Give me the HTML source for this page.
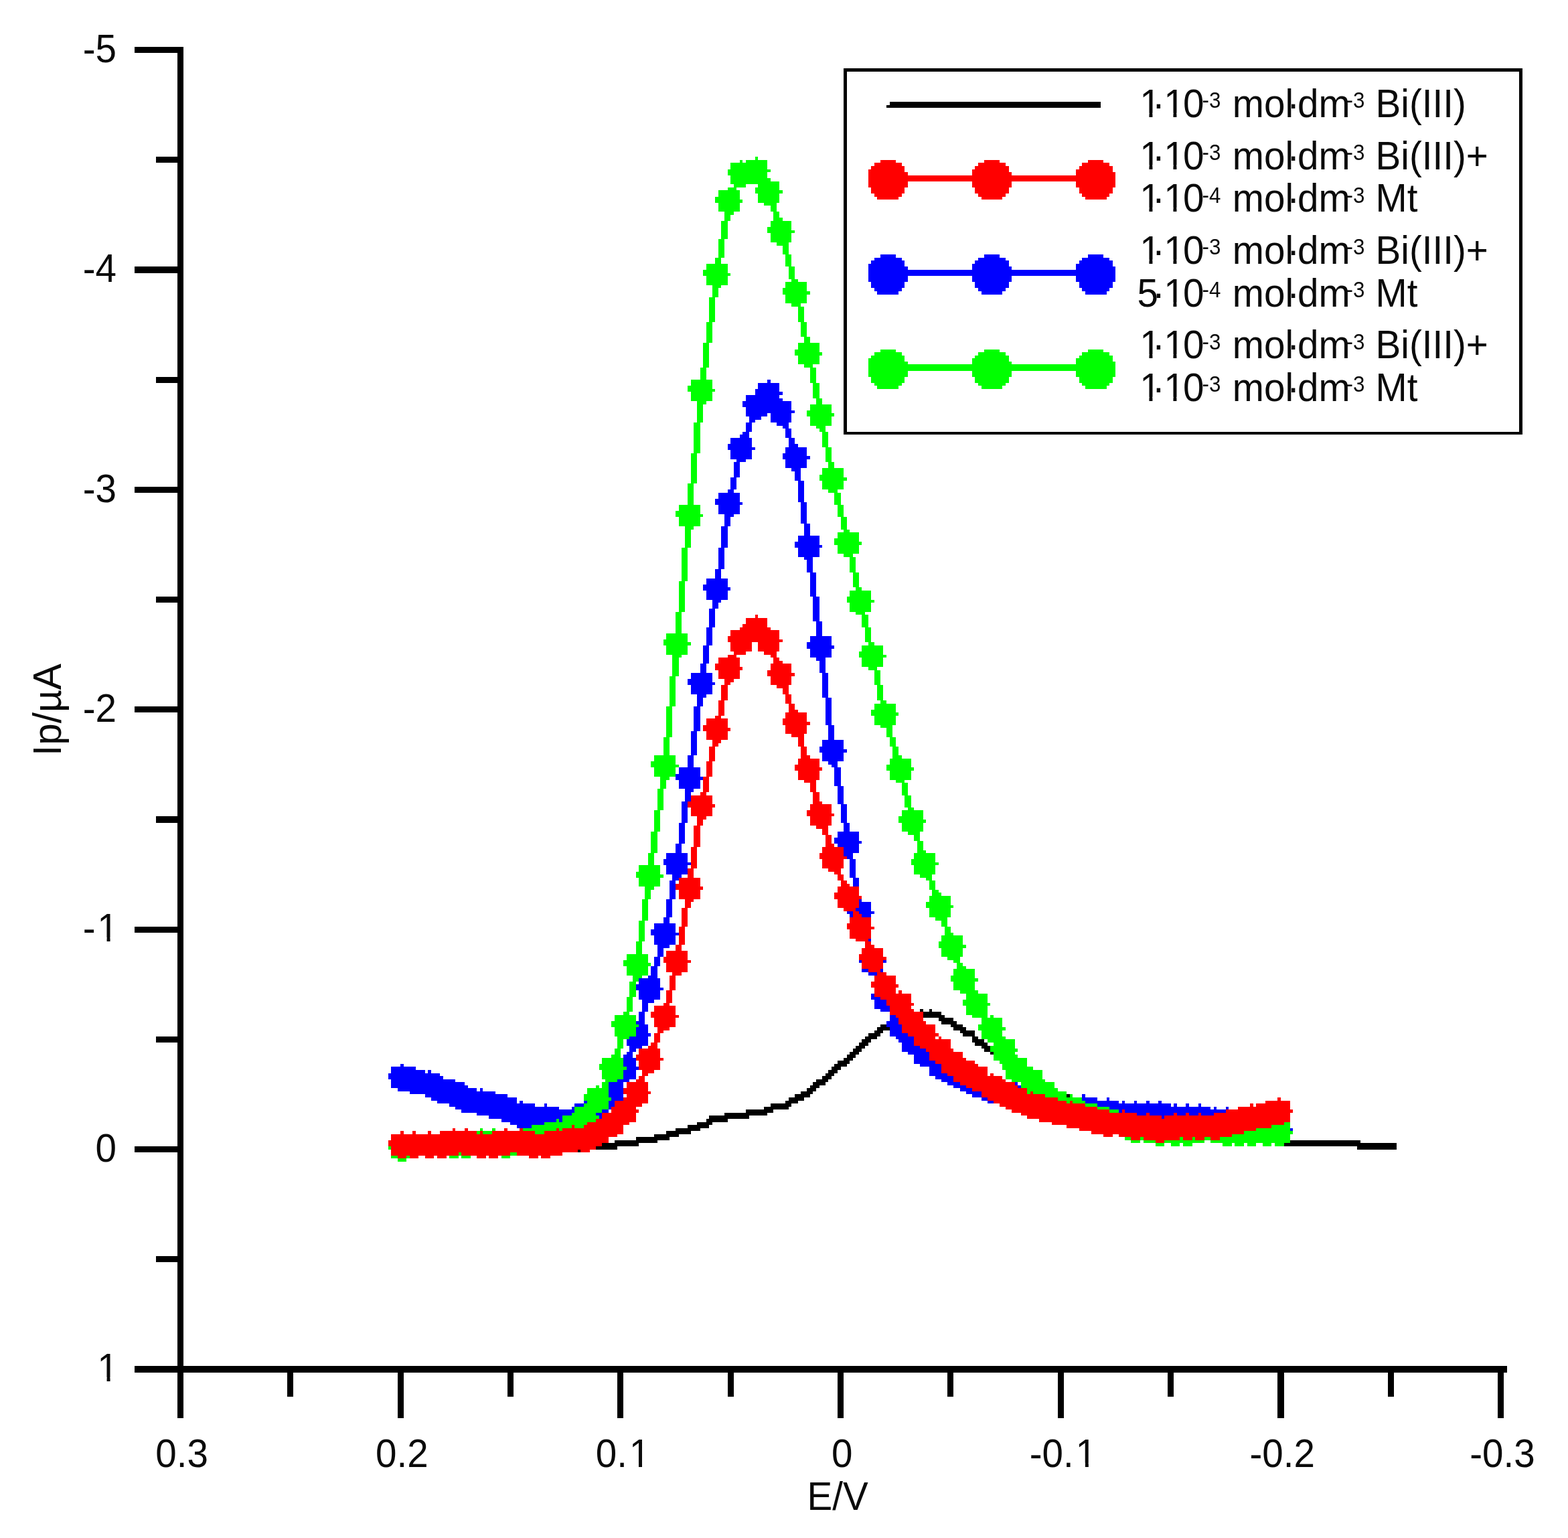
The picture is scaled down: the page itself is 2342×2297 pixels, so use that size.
<!DOCTYPE html>
<html lang="en"><head><meta charset="utf-8"><title>Ip vs E voltammogram</title>
<style>
html,body{margin:0;padding:0;background:#fff;}
body{width:2342px;height:2297px;overflow:hidden;}
svg{display:block;}
text{font-family:"Liberation Sans",sans-serif;font-size:59.6px;fill:#0a0a0a;white-space:pre;}
</style></head>
<body>
<svg width="2342" height="2297" viewBox="0 0 2342 2297">
<rect width="2342" height="2297" fill="#ffffff"/>
<g shape-rendering="crispEdges">
<path fill="#000000" d="M200.88 70.06H273.93V79.18H200.88ZM264.8 79.18H273.93V234.26H264.8ZM1260.08 101.99H2273.62V106.55H1260.08ZM1260.08 106.55H1264.64V644.75H1260.08ZM2269.05 106.55H2273.62V644.75H2269.05ZM1328.56 152.16H1643.58V156.72H1328.56ZM1324 156.72H1643.58V161.28H1324ZM232.84 234.26H273.93V243.38H232.84ZM264.8 243.38H273.93V398.45H264.8ZM200.88 398.45H273.93V407.57H200.88ZM264.8 407.57H273.93V562.65H264.8ZM232.84 562.65H273.93V571.77H232.84ZM264.8 571.77H273.93V726.84H264.8ZM1260.08 644.75H2273.62V649.31H1260.08ZM200.88 726.84H273.93V735.97H200.88ZM264.8 735.97H273.93V891.04H264.8ZM232.84 891.04H273.93V900.16H232.84ZM264.8 900.16H273.93V1055.24H264.8ZM200.88 1055.24H273.93V1064.36H200.88ZM264.8 1064.36H273.93V1219.43H264.8ZM232.84 1219.43H273.93V1228.55H232.84ZM264.8 1228.55H273.93V1383.63H264.8ZM200.88 1383.63H273.93V1392.75H200.88ZM264.8 1392.75H273.93V1547.82H264.8ZM1374.22 1506.77H1378.78V1511.34H1374.22ZM1387.91 1506.77H1392.48V1511.34H1387.91ZM1378.78 1511.34H1406.17V1515.9H1378.78ZM1378.78 1515.9H1410.74V1520.46H1378.78ZM1401.61 1520.46H1424.44V1525.02H1401.61ZM1406.17 1525.02H1429V1529.58H1406.17ZM1314.86 1529.58H1324V1534.14H1314.86ZM1419.87 1529.58H1438.13V1534.14H1419.87ZM1310.3 1534.14H1328.56V1538.7H1310.3ZM1424.44 1534.14H1442.7V1538.7H1424.44ZM1305.73 1538.7H1319.43V1543.26H1305.73ZM1433.57 1538.7H1456.39V1543.26H1433.57ZM1296.6 1543.26H1314.86V1547.82H1296.6ZM1438.13 1543.26H1456.39V1547.82H1438.13ZM232.84 1547.82H273.93V1556.95H232.84ZM1292.04 1547.82H1310.3V1552.38H1292.04ZM1451.83 1547.82H1460.96V1552.38H1451.83ZM1287.47 1552.38H1301.17V1556.95H1287.47ZM1451.83 1552.38H1470.09V1556.95H1451.83ZM264.8 1556.95H273.93V1712.02H264.8ZM1282.91 1556.95H1296.6V1561.51H1282.91ZM1456.39 1556.95H1474.66V1561.51H1456.39ZM1278.34 1561.51H1292.04V1566.07H1278.34ZM1465.53 1561.51H1479.22V1566.07H1465.53ZM1273.77 1566.07H1287.47V1570.63H1273.77ZM1470.09 1566.07H1479.22V1570.63H1470.09ZM1269.21 1570.63H1282.91V1575.19H1269.21ZM1479.22 1570.63H1483.79V1575.19H1479.22ZM1264.64 1575.19H1278.34V1579.75H1264.64ZM1260.08 1579.75H1273.77V1584.31H1260.08ZM1250.95 1584.31H1269.21V1588.87H1250.95ZM1246.38 1588.87H1264.64V1593.43H1246.38ZM1241.82 1593.43H1255.51V1597.99H1241.82ZM1237.25 1597.99H1250.95V1602.56H1237.25ZM1232.68 1602.56H1246.38V1607.12H1232.68ZM1228.12 1607.12H1241.82V1611.68H1228.12ZM1218.99 1611.68H1237.25V1616.24H1218.99ZM1214.42 1616.24H1232.68V1620.8H1214.42ZM1209.86 1620.8H1223.55V1625.36H1209.86ZM1205.29 1625.36H1218.99V1629.92H1205.29ZM1196.16 1629.92H1214.42V1634.48H1196.16ZM1187.03 1634.48H1209.86V1639.04H1187.03ZM1593.36 1634.48H1597.92V1639.04H1593.36ZM1177.9 1639.04H1200.73V1643.61H1177.9ZM1173.33 1643.61H1191.6V1648.17H1173.33ZM1150.51 1648.17H1182.46V1652.73H1150.51ZM1141.38 1652.73H1177.9V1657.29H1141.38ZM1113.98 1657.29H1155.07V1661.85H1113.98ZM1082.02 1661.85H1145.94V1666.41H1082.02ZM1059.2 1666.41H1118.55V1670.97H1059.2ZM1054.63 1670.97H1086.59V1675.53H1054.63ZM1040.93 1675.53H1063.76V1680.09H1040.93ZM1027.24 1680.09H1059.2V1684.65H1027.24ZM1008.98 1684.65H1045.5V1689.21H1008.98ZM995.28 1689.21H1031.8V1693.78H995.28ZM977.02 1693.78H1013.54V1698.34H977.02ZM949.62 1698.34H999.84V1702.9H949.62ZM917.67 1702.9H981.58V1707.46H917.67ZM1926.64 1702.9H2031.65V1707.46H1926.64ZM899.4 1707.46H954.19V1712.02H899.4ZM1917.51 1707.46H2086.43V1712.02H1917.51ZM200.88 1712.02H273.93V1721.14H200.88ZM890.27 1712.02H922.23V1716.58H890.27ZM2027.08 1712.02H2086.43V1716.58H2027.08ZM862.88 1716.58H867.45V1721.14H862.88ZM264.8 1721.14H273.93V1876.22H264.8ZM232.84 1876.22H273.93V1885.34H232.84ZM264.8 1885.34H273.93V2040.41H264.8ZM200.88 2040.41H2250.79V2049.53H200.88ZM264.8 2049.53H273.93V2117.95H264.8ZM429.16 2049.53H438.29V2086.02H429.16ZM593.51 2049.53H602.65V2117.95H593.51ZM757.87 2049.53H767V2086.02H757.87ZM922.23 2049.53H931.36V2117.95H922.23ZM1086.59 2049.53H1095.72V2086.02H1086.59ZM1250.95 2049.53H1260.08V2117.95H1250.95ZM1415.31 2049.53H1424.44V2086.02H1415.31ZM1579.66 2049.53H1588.79V2117.95H1579.66ZM1744.02 2049.53H1753.15V2086.02H1744.02ZM1908.38 2049.53H1917.51V2117.95H1908.38ZM2072.74 2049.53H2081.87V2086.02H2072.74ZM2237.1 2049.53H2246.23V2117.95H2237.1Z"/>
<path fill="#0000ff" d="M1314.86 380.21H1337.69V384.77H1314.86ZM1470.09 380.21H1492.92V384.77H1470.09ZM1625.32 380.21H1648.15V384.77H1625.32ZM1305.73 384.77H1346.82V389.33H1305.73ZM1460.96 384.77H1502.05V389.33H1460.96ZM1616.19 384.77H1657.28V389.33H1616.19ZM1301.17 389.33H1351.39V393.89H1301.17ZM1456.39 389.33H1506.62V393.89H1456.39ZM1611.62 389.33H1661.84V393.89H1611.62ZM1296.6 393.89H1351.39V398.45H1296.6ZM1451.83 393.89H1506.62V398.45H1451.83ZM1607.06 393.89H1661.84V398.45H1607.06ZM1296.6 398.45H1355.95V403.01H1296.6ZM1451.83 398.45H1511.18V403.01H1451.83ZM1607.06 398.45H1666.41V403.01H1607.06ZM1296.6 403.01H1666.41V412.13H1296.6ZM1296.6 412.13H1355.95V421.26H1296.6ZM1451.83 412.13H1511.18V421.26H1451.83ZM1607.06 412.13H1666.41V421.26H1607.06ZM1301.17 421.26H1351.39V430.38H1301.17ZM1456.39 421.26H1506.62V430.38H1456.39ZM1611.62 421.26H1661.84V430.38H1611.62ZM1305.73 430.38H1346.82V434.94H1305.73ZM1460.96 430.38H1502.05V434.94H1460.96ZM1616.19 430.38H1657.28V434.94H1616.19ZM1310.3 434.94H1342.26V439.5H1310.3ZM1465.53 434.94H1497.48V439.5H1465.53ZM1620.75 434.94H1652.71V439.5H1620.75ZM1145.94 567.21H1150.51V571.77H1145.94ZM1132.24 571.77H1164.2V580.89H1132.24ZM1127.68 580.89H1164.2V585.45H1127.68ZM1127.68 585.45H1168.77V590.01H1127.68ZM1113.98 590.01H1164.2V594.57H1113.98ZM1113.98 594.57H1168.77V599.14H1113.98ZM1109.42 599.14H1182.46V608.26H1109.42ZM1113.98 608.26H1182.46V612.82H1113.98ZM1113.98 612.82H1187.03V617.38H1113.98ZM1113.98 617.38H1145.94V621.94H1113.98ZM1150.51 617.38H1182.46V631.06H1150.51ZM1118.55 621.94H1136.81V626.5H1118.55ZM1118.55 626.5H1127.68V631.06H1118.55ZM1113.98 631.06H1123.11V644.75H1113.98ZM1159.64 631.06H1177.9V635.62H1159.64ZM1168.77 635.62H1177.9V640.18H1168.77ZM1173.33 640.18H1182.46V653.87H1173.33ZM1109.42 644.75H1118.55V649.31H1109.42ZM1104.85 649.31H1118.55V653.87H1104.85ZM1091.15 653.87H1123.11V662.99H1091.15ZM1177.9 653.87H1187.03V662.99H1177.9ZM1086.59 662.99H1123.11V667.55H1086.59ZM1177.9 662.99H1191.6V667.55H1177.9ZM1086.59 667.55H1127.68V672.11H1086.59ZM1173.33 667.55H1205.29V676.67H1173.33ZM1091.15 672.11H1123.11V685.79H1091.15ZM1168.77 676.67H1205.29V681.23H1168.77ZM1168.77 681.23H1209.86V685.79H1168.77ZM1100.29 685.79H1113.98V690.36H1100.29ZM1173.33 685.79H1205.29V699.48H1173.33ZM1095.72 690.36H1104.85V713.16H1095.72ZM1182.46 699.48H1196.16V704.04H1182.46ZM1187.03 704.04H1196.16V717.72H1187.03ZM1091.15 713.16H1100.29V731.4H1091.15ZM1191.6 717.72H1200.73V749.65H1191.6ZM1086.59 731.4H1095.72V735.97H1086.59ZM1072.89 735.97H1104.85V745.09H1072.89ZM1068.33 745.09H1104.85V749.65H1068.33ZM1068.33 749.65H1109.42V754.21H1068.33ZM1196.16 749.65H1205.29V781.58H1196.16ZM1072.89 754.21H1104.85V767.89H1072.89ZM1082.02 767.89H1095.72V772.45H1082.02ZM1082.02 772.45H1091.15V786.14H1082.02ZM1200.73 781.58H1209.86V799.82H1200.73ZM1077.46 786.14H1086.59V818.06H1077.46ZM1191.6 799.82H1223.55V808.94H1191.6ZM1187.03 808.94H1223.55V813.5H1187.03ZM1187.03 813.5H1228.12V818.06H1187.03ZM1072.89 818.06H1082.02V849.99H1072.89ZM1191.6 818.06H1223.55V831.75H1191.6ZM1200.73 831.75H1214.42V836.31H1200.73ZM1205.29 836.31H1214.42V854.55H1205.29ZM1068.33 849.99H1077.46V863.67H1068.33ZM1209.86 854.55H1218.99V891.04H1209.86ZM1054.63 863.67H1086.59V872.8H1054.63ZM1050.07 872.8H1086.59V877.36H1050.07ZM1050.07 877.36H1091.15V881.92H1050.07ZM1054.63 881.92H1086.59V895.6H1054.63ZM1214.42 891.04H1223.55V927.53H1214.42ZM1063.76 895.6H1077.46V900.16H1063.76ZM1063.76 900.16H1072.89V909.28H1063.76ZM1059.2 909.28H1068.33V936.65H1059.2ZM1218.99 927.53H1228.12V950.33H1218.99ZM1054.63 936.65H1063.76V964.02H1054.63ZM1209.86 950.33H1241.82V959.45H1209.86ZM1205.29 959.45H1241.82V964.02H1205.29ZM1050.07 964.02H1059.2V991.38H1050.07ZM1205.29 964.02H1246.38V968.58H1205.29ZM1209.86 968.58H1241.82V982.26H1209.86ZM1218.99 982.26H1232.68V986.82H1218.99ZM1223.55 986.82H1232.68V1005.06H1223.55ZM1045.5 991.38H1054.63V1005.06H1045.5ZM1031.8 1005.06H1063.76V1014.19H1031.8ZM1228.12 1005.06H1237.25V1041.55H1228.12ZM1027.24 1014.19H1063.76V1018.75H1027.24ZM1027.24 1018.75H1068.33V1023.31H1027.24ZM1031.8 1023.31H1063.76V1036.99H1031.8ZM1040.93 1036.99H1054.63V1041.55H1040.93ZM1040.93 1041.55H1050.07V1055.24H1040.93ZM1232.68 1041.55H1241.82V1082.6H1232.68ZM1036.37 1055.24H1045.5V1091.72H1036.37ZM1237.25 1082.6H1246.38V1105.41H1237.25ZM1031.8 1091.72H1040.93V1128.21H1031.8ZM1228.12 1105.41H1260.08V1114.53H1228.12ZM1223.55 1114.53H1260.08V1119.09H1223.55ZM1223.55 1119.09H1264.64V1123.65H1223.55ZM1228.12 1123.65H1260.08V1137.33H1228.12ZM1027.24 1128.21H1036.37V1146.46H1027.24ZM1237.25 1137.33H1250.95V1141.89H1237.25ZM1241.82 1141.89H1250.95V1146.46H1241.82ZM1013.54 1146.46H1045.5V1155.58H1013.54ZM1246.38 1146.46H1255.51V1173.82H1246.38ZM1008.98 1155.58H1045.5V1160.14H1008.98ZM1008.98 1160.14H1050.07V1164.7H1008.98ZM1013.54 1164.7H1045.5V1178.38H1013.54ZM1250.95 1173.82H1260.08V1201.19H1250.95ZM1022.67 1178.38H1036.37V1182.94H1022.67ZM1022.67 1182.94H1031.8V1196.63H1022.67ZM1018.11 1196.63H1027.24V1228.55H1018.11ZM1255.51 1201.19H1264.64V1228.55H1255.51ZM1013.54 1228.55H1022.67V1260.48H1013.54ZM1260.08 1228.55H1269.21V1242.24H1260.08ZM1250.95 1242.24H1282.91V1251.36H1250.95ZM1246.38 1251.36H1282.91V1255.92H1246.38ZM1246.38 1255.92H1287.47V1260.48H1246.38ZM1008.98 1260.48H1018.11V1274.16H1008.98ZM1250.95 1260.48H1282.91V1265.04H1250.95ZM1260.08 1265.04H1282.91V1274.16H1260.08ZM995.28 1274.16H1027.24V1283.29H995.28ZM1260.08 1274.16H1273.77V1278.72H1260.08ZM1264.64 1278.72H1273.77V1283.29H1264.64ZM990.71 1283.29H1027.24V1287.85H990.71ZM1269.21 1283.29H1278.34V1310.65H1269.21ZM990.71 1287.85H1031.8V1292.41H990.71ZM995.28 1292.41H1027.24V1306.09H995.28ZM1004.41 1306.09H1018.11V1310.65H1004.41ZM1004.41 1310.65H1013.54V1315.21H1004.41ZM1273.77 1310.65H1282.91V1324.34H1273.77ZM999.84 1315.21H1008.98V1342.58H999.84ZM995.28 1342.58H1004.41V1369.94H995.28ZM1282.91 1342.58H1287.47V1347.14H1282.91ZM1282.91 1347.14H1301.17V1356.26H1282.91ZM1278.34 1356.26H1301.17V1360.82H1278.34ZM1264.64 1360.82H1273.77V1365.38H1264.64ZM1282.91 1360.82H1305.73V1365.38H1282.91ZM1269.21 1365.38H1273.77V1369.94H1269.21ZM1287.47 1365.38H1301.17V1369.94H1287.47ZM990.71 1369.94H999.84V1379.07H990.71ZM977.02 1379.07H1008.98V1388.19H977.02ZM972.45 1388.19H1008.98V1392.75H972.45ZM972.45 1392.75H1013.54V1397.31H972.45ZM977.02 1397.31H1008.98V1410.99H977.02ZM1296.6 1401.87H1301.17V1406.43H1296.6ZM981.58 1410.99H999.84V1415.56H981.58ZM981.58 1415.56H990.71V1429.24H981.58ZM977.02 1429.24H986.15V1442.92H977.02ZM1282.91 1433.8H1287.47V1438.36H1282.91ZM1319.43 1433.8H1324V1438.36H1319.43ZM972.45 1442.92H981.58V1456.6H972.45ZM1287.47 1447.48H1296.6V1452.04H1287.47ZM1314.86 1447.48H1319.43V1452.04H1314.86ZM1296.6 1452.04H1310.3V1456.6H1296.6ZM967.89 1456.6H981.58V1461.16H967.89ZM954.19 1461.16H986.15V1470.29H954.19ZM949.62 1470.29H986.15V1474.85H949.62ZM949.62 1474.85H990.71V1479.41H949.62ZM954.19 1479.41H986.15V1493.09H954.19ZM1301.17 1483.97H1305.73V1488.53H1301.17ZM1301.17 1488.53H1314.86V1493.09H1301.17ZM958.75 1493.09H977.02V1497.65H958.75ZM1305.73 1493.09H1324V1502.21H1305.73ZM958.75 1497.65H967.89V1511.34H958.75ZM1305.73 1502.21H1328.56V1506.77H1305.73ZM1314.86 1506.77H1328.56V1511.34H1314.86ZM954.19 1511.34H963.32V1525.02H954.19ZM1328.56 1515.9H1337.69V1520.46H1328.56ZM1328.56 1520.46H1342.26V1525.02H1328.56ZM949.62 1525.02H963.32V1529.58H949.62ZM1324 1525.02H1342.26V1529.58H1324ZM954.19 1529.58H967.89V1534.14H954.19ZM1324 1529.58H1346.82V1534.14H1324ZM949.62 1534.14H967.89V1543.26H949.62ZM1328.56 1534.14H1346.82V1543.26H1328.56ZM949.62 1543.26H972.45V1547.82H949.62ZM1328.56 1543.26H1355.95V1547.82H1328.56ZM940.49 1547.82H967.89V1552.38H940.49ZM1337.69 1547.82H1365.08V1552.38H1337.69ZM935.93 1552.38H967.89V1561.51H935.93ZM1342.26 1552.38H1365.08V1556.95H1342.26ZM1346.82 1556.95H1365.08V1561.51H1346.82ZM940.49 1561.51H958.75V1566.07H940.49ZM1346.82 1561.51H1374.22V1566.07H1346.82ZM940.49 1566.07H949.62V1570.63H940.49ZM1346.82 1566.07H1383.35V1570.63H1346.82ZM935.93 1570.63H945.06V1575.19H935.93ZM1355.95 1570.63H1387.91V1575.19H1355.95ZM931.36 1575.19H945.06V1579.75H931.36ZM1365.08 1575.19H1387.91V1584.31H1365.08ZM931.36 1579.75H949.62V1593.43H931.36ZM1365.08 1584.31H1397.04V1588.87H1365.08ZM598.08 1588.87H602.65V1593.43H598.08ZM1374.22 1588.87H1406.17V1593.43H1374.22ZM584.38 1593.43H620.91V1597.99H584.38ZM935.93 1593.43H954.19V1597.99H935.93ZM1387.91 1593.43H1406.17V1602.56H1387.91ZM584.38 1597.99H634.6V1602.56H584.38ZM639.17 1597.99H643.74V1602.56H639.17ZM931.36 1597.99H949.62V1611.68H931.36ZM579.82 1602.56H657.43V1607.12H579.82ZM1387.91 1602.56H1415.31V1607.12H1387.91ZM579.82 1607.12H662V1611.68H579.82ZM1397.04 1607.12H1424.44V1611.68H1397.04ZM584.38 1611.68H680.26V1616.24H584.38ZM922.23 1611.68H940.49V1616.24H922.23ZM1406.17 1611.68H1424.44V1616.24H1406.17ZM584.38 1616.24H693.96V1620.8H584.38ZM908.53 1616.24H931.36V1639.04H908.53ZM1415.31 1616.24H1433.57V1620.8H1415.31ZM1515.75 1616.24H1520.31V1620.8H1515.75ZM584.38 1620.8H698.52V1625.36H584.38ZM1424.44 1620.8H1442.7V1625.36H1424.44ZM1520.31 1620.8H1524.88V1625.36H1520.31ZM593.51 1625.36H712.22V1629.92H593.51ZM716.78 1625.36H721.35V1629.92H716.78ZM1433.57 1625.36H1451.83V1629.92H1433.57ZM611.78 1629.92H739.61V1634.48H611.78ZM1442.7 1629.92H1465.53V1634.48H1442.7ZM634.6 1634.48H757.87V1639.04H634.6ZM1451.83 1634.48H1465.53V1639.04H1451.83ZM1616.19 1634.48H1620.75V1639.04H1616.19ZM643.74 1639.04H771.57V1643.61H643.74ZM913.1 1639.04H931.36V1643.61H913.1ZM1465.53 1639.04H1474.66V1643.61H1465.53ZM1616.19 1639.04H1639.01V1643.61H1616.19ZM1652.71 1639.04H1657.28V1643.61H1652.71ZM652.87 1643.61H771.57V1648.17H652.87ZM776.13 1643.61H780.7V1648.17H776.13ZM872.01 1643.61H876.58V1648.17H872.01ZM908.53 1643.61H917.67V1652.73H908.53ZM1474.66 1643.61H1483.79V1648.17H1474.66ZM1620.75 1643.61H1670.97V1648.17H1620.75ZM1675.54 1643.61H1680.1V1648.17H1675.54ZM1693.8 1643.61H1698.37V1648.17H1693.8ZM1712.06 1643.61H1716.63V1648.17H1712.06ZM1730.32 1643.61H1734.89V1648.17H1730.32ZM671.13 1648.17H798.96V1652.73H671.13ZM812.66 1648.17H817.22V1652.73H812.66ZM858.31 1648.17H872.01V1652.73H858.31ZM1639.01 1648.17H1748.59V1652.73H1639.01ZM1753.15 1648.17H1757.72V1652.73H1753.15ZM1771.41 1648.17H1775.98V1652.73H1771.41ZM1789.68 1648.17H1794.24V1652.73H1789.68ZM680.26 1652.73H835.49V1657.29H680.26ZM853.75 1652.73H858.31V1657.29H853.75ZM908.53 1652.73H913.1V1657.29H908.53ZM1657.28 1652.73H1807.94V1657.29H1657.28ZM1812.5 1652.73H1817.07V1657.29H1812.5ZM1830.77 1652.73H1835.33V1657.29H1830.77ZM689.39 1657.29H858.31V1661.85H689.39ZM899.4 1657.29H908.53V1661.85H899.4ZM1670.97 1657.29H1675.54V1661.85H1670.97ZM1680.1 1657.29H1830.77V1661.85H1680.1ZM712.22 1661.85H853.75V1666.41H712.22ZM890.27 1661.85H899.4V1666.41H890.27ZM1698.37 1661.85H1712.06V1666.41H1698.37ZM1716.63 1661.85H1753.15V1666.41H1716.63ZM1757.72 1661.85H1771.41V1666.41H1757.72ZM1775.98 1661.85H1789.68V1666.41H1775.98ZM1794.24 1661.85H1812.5V1666.41H1794.24ZM730.48 1666.41H840.05V1670.97H730.48ZM894.84 1666.41H899.4V1670.97H894.84ZM1734.89 1666.41H1739.46V1670.97H1734.89ZM748.74 1670.97H830.92V1675.53H748.74ZM835.49 1670.97H840.05V1675.53H835.49ZM762.44 1675.53H812.66V1680.09H762.44ZM771.57 1680.09H794.4V1684.65H771.57ZM1926.64 1684.65H1931.21V1689.21H1926.64Z"/>
<path fill="#00ff00" d="M1127.68 234.26H1132.24V238.82H1127.68ZM1104.85 238.82H1109.42V243.38H1104.85ZM1113.98 238.82H1145.94V243.38H1113.98ZM1091.15 243.38H1145.94V252.5H1091.15ZM1086.59 252.5H1150.51V257.06H1086.59ZM1086.59 257.06H1145.94V261.62H1086.59ZM1091.15 261.62H1145.94V266.18H1091.15ZM1091.15 266.18H1150.51V270.74H1091.15ZM1091.15 270.74H1164.2V275.3H1091.15ZM1095.72 275.3H1113.98V279.87H1095.72ZM1132.24 275.3H1164.2V279.87H1132.24ZM1086.59 279.87H1100.29V284.43H1086.59ZM1127.68 279.87H1164.2V284.43H1127.68ZM1072.89 284.43H1104.85V293.55H1072.89ZM1127.68 284.43H1168.77V288.99H1127.68ZM1132.24 288.99H1164.2V302.67H1132.24ZM1068.33 293.55H1104.85V298.11H1068.33ZM1068.33 298.11H1109.42V302.67H1068.33ZM1072.89 302.67H1104.85V316.35H1072.89ZM1141.38 302.67H1159.64V307.23H1141.38ZM1150.51 307.23H1159.64V316.35H1150.51ZM1082.02 316.35H1095.72V320.91H1082.02ZM1155.07 316.35H1164.2V325.48H1155.07ZM1082.02 320.91H1091.15V330.04H1082.02ZM1155.07 325.48H1168.77V330.04H1155.07ZM1077.46 330.04H1086.59V357.4H1077.46ZM1150.51 330.04H1182.46V339.16H1150.51ZM1145.94 339.16H1182.46V343.72H1145.94ZM1145.94 343.72H1187.03V348.28H1145.94ZM1150.51 348.28H1182.46V361.96H1150.51ZM1072.89 357.4H1082.02V384.77H1072.89ZM1159.64 361.96H1177.9V366.52H1159.64ZM1168.77 366.52H1177.9V380.21H1168.77ZM1173.33 380.21H1182.46V398.45H1173.33ZM1068.33 384.77H1077.46V393.89H1068.33ZM1054.63 393.89H1086.59V403.01H1054.63ZM1177.9 398.45H1187.03V416.7H1177.9ZM1050.07 403.01H1086.59V407.57H1050.07ZM1050.07 407.57H1091.15V412.13H1050.07ZM1054.63 412.13H1086.59V425.82H1054.63ZM1182.46 416.7H1191.6V421.26H1182.46ZM1173.33 421.26H1205.29V430.38H1173.33ZM1063.76 425.82H1077.46V430.38H1063.76ZM1063.76 430.38H1072.89V444.06H1063.76ZM1168.77 430.38H1205.29V434.94H1168.77ZM1168.77 434.94H1209.86V439.5H1168.77ZM1173.33 439.5H1205.29V453.18H1173.33ZM1059.2 444.06H1068.33V480.55H1059.2ZM1182.46 453.18H1196.16V457.75H1182.46ZM1191.6 457.75H1200.73V480.55H1191.6ZM1054.63 480.55H1063.76V512.48H1054.63ZM1196.16 480.55H1205.29V503.35H1196.16ZM1200.73 503.35H1209.86V512.48H1200.73ZM1050.07 512.48H1059.2V548.96H1050.07ZM1191.6 512.48H1223.55V521.6H1191.6ZM1187.03 521.6H1223.55V526.16H1187.03ZM1314.86 521.6H1337.69V526.16H1314.86ZM1470.09 521.6H1492.92V526.16H1470.09ZM1625.32 521.6H1648.15V526.16H1625.32ZM1187.03 526.16H1228.12V530.72H1187.03ZM1305.73 526.16H1346.82V530.72H1305.73ZM1460.96 526.16H1502.05V530.72H1460.96ZM1616.19 526.16H1657.28V530.72H1616.19ZM1191.6 530.72H1223.55V544.4H1191.6ZM1301.17 530.72H1351.39V535.28H1301.17ZM1456.39 530.72H1506.62V535.28H1456.39ZM1611.62 530.72H1661.84V535.28H1611.62ZM1296.6 535.28H1351.39V539.84H1296.6ZM1451.83 535.28H1506.62V539.84H1451.83ZM1607.06 535.28H1661.84V539.84H1607.06ZM1296.6 539.84H1355.95V544.4H1296.6ZM1451.83 539.84H1511.18V544.4H1451.83ZM1607.06 539.84H1666.41V544.4H1607.06ZM1200.73 544.4H1214.42V548.96H1200.73ZM1296.6 544.4H1666.41V553.53H1296.6ZM1045.5 548.96H1054.63V567.21H1045.5ZM1209.86 548.96H1218.99V571.77H1209.86ZM1296.6 553.53H1355.95V562.65H1296.6ZM1451.83 553.53H1511.18V562.65H1451.83ZM1607.06 553.53H1666.41V562.65H1607.06ZM1301.17 562.65H1351.39V571.77H1301.17ZM1456.39 562.65H1506.62V571.77H1456.39ZM1611.62 562.65H1661.84V571.77H1611.62ZM1031.8 567.21H1063.76V576.33H1031.8ZM1214.42 571.77H1223.55V594.57H1214.42ZM1305.73 571.77H1346.82V576.33H1305.73ZM1460.96 571.77H1502.05V576.33H1460.96ZM1616.19 571.77H1657.28V576.33H1616.19ZM1027.24 576.33H1063.76V580.89H1027.24ZM1310.3 576.33H1342.26V580.89H1310.3ZM1465.53 576.33H1497.48V580.89H1465.53ZM1620.75 576.33H1652.71V580.89H1620.75ZM1027.24 580.89H1068.33V585.45H1027.24ZM1031.8 585.45H1063.76V599.14H1031.8ZM1218.99 594.57H1228.12V603.7H1218.99ZM1040.93 599.14H1054.63V603.7H1040.93ZM1040.93 603.7H1050.07V631.06H1040.93ZM1209.86 603.7H1241.82V612.82H1209.86ZM1205.29 612.82H1241.82V617.38H1205.29ZM1205.29 617.38H1246.38V621.94H1205.29ZM1209.86 621.94H1241.82V635.62H1209.86ZM1036.37 631.06H1045.5V676.67H1036.37ZM1218.99 635.62H1232.68V640.18H1218.99ZM1223.55 640.18H1232.68V644.75H1223.55ZM1228.12 644.75H1237.25V667.55H1228.12ZM1232.68 667.55H1241.82V690.36H1232.68ZM1031.8 676.67H1040.93V722.28H1031.8ZM1237.25 690.36H1246.38V699.48H1237.25ZM1228.12 699.48H1260.08V708.6H1228.12ZM1223.55 708.6H1260.08V713.16H1223.55ZM1223.55 713.16H1264.64V717.72H1223.55ZM1228.12 717.72H1260.08V731.4H1228.12ZM1027.24 722.28H1036.37V754.21H1027.24ZM1237.25 731.4H1250.95V735.97H1237.25ZM1246.38 735.97H1255.51V754.21H1246.38ZM1013.54 754.21H1045.5V763.33H1013.54ZM1250.95 754.21H1260.08V772.45H1250.95ZM1008.98 763.33H1045.5V767.89H1008.98ZM1008.98 767.89H1050.07V772.45H1008.98ZM1013.54 772.45H1045.5V786.14H1013.54ZM1255.51 772.45H1264.64V790.7H1255.51ZM1022.67 786.14H1036.37V790.7H1022.67ZM1022.67 790.7H1031.8V818.06H1022.67ZM1260.08 790.7H1269.21V795.26H1260.08ZM1250.95 795.26H1282.91V804.38H1250.95ZM1246.38 804.38H1282.91V808.94H1246.38ZM1246.38 808.94H1287.47V813.5H1246.38ZM1250.95 813.5H1282.91V827.19H1250.95ZM1018.11 818.06H1027.24V868.24H1018.11ZM1260.08 827.19H1273.77V831.75H1260.08ZM1269.21 831.75H1278.34V854.55H1269.21ZM1273.77 854.55H1282.91V877.36H1273.77ZM1013.54 868.24H1022.67V913.85H1013.54ZM1278.34 877.36H1287.47V881.92H1278.34ZM1269.21 881.92H1301.17V891.04H1269.21ZM1264.64 891.04H1301.17V895.6H1264.64ZM1264.64 895.6H1305.73V900.16H1264.64ZM1269.21 900.16H1301.17V913.85H1269.21ZM1008.98 913.85H1018.11V945.77H1008.98ZM1278.34 913.85H1292.04V918.41H1278.34ZM1287.47 918.41H1296.6V936.65H1287.47ZM1292.04 936.65H1301.17V959.45H1292.04ZM995.28 945.77H1027.24V954.89H995.28ZM990.71 954.89H1027.24V959.45H990.71ZM990.71 959.45H1031.8V964.02H990.71ZM1296.6 959.45H1305.73V964.02H1296.6ZM995.28 964.02H1027.24V977.7H995.28ZM1287.47 964.02H1319.43V973.14H1287.47ZM1282.91 973.14H1319.43V977.7H1282.91ZM1004.41 977.7H1018.11V982.26H1004.41ZM1282.91 977.7H1324V982.26H1282.91ZM1004.41 982.26H1013.54V1009.63H1004.41ZM1287.47 982.26H1319.43V995.94H1287.47ZM1296.6 995.94H1310.3V1000.5H1296.6ZM1305.73 1000.5H1314.86V1023.31H1305.73ZM999.84 1009.63H1008.98V1055.24H999.84ZM1310.3 1023.31H1319.43V1046.11H1310.3ZM1314.86 1046.11H1324V1050.67H1314.86ZM1305.73 1050.67H1337.69V1059.8H1305.73ZM995.28 1055.24H1004.41V1100.85H995.28ZM1301.17 1059.8H1337.69V1064.36H1301.17ZM1301.17 1064.36H1342.26V1068.92H1301.17ZM1305.73 1068.92H1337.69V1082.6H1305.73ZM1314.86 1082.6H1333.13V1087.16H1314.86ZM1324 1087.16H1333.13V1100.85H1324ZM990.71 1100.85H999.84V1128.21H990.71ZM1328.56 1100.85H1337.69V1114.53H1328.56ZM1333.13 1114.53H1342.26V1128.21H1333.13ZM977.02 1128.21H1008.98V1137.33H977.02ZM1333.13 1128.21H1346.82V1132.77H1333.13ZM1328.56 1132.77H1360.52V1141.89H1328.56ZM972.45 1137.33H1008.98V1141.89H972.45ZM972.45 1141.89H1013.54V1146.46H972.45ZM1324 1141.89H1360.52V1146.46H1324ZM977.02 1146.46H1008.98V1160.14H977.02ZM1324 1146.46H1365.08V1151.02H1324ZM1328.56 1151.02H1360.52V1164.7H1328.56ZM986.15 1160.14H999.84V1164.7H986.15ZM986.15 1164.7H995.28V1178.38H986.15ZM1337.69 1164.7H1351.39V1169.26H1337.69ZM1346.82 1169.26H1355.95V1187.5H1346.82ZM981.58 1178.38H990.71V1210.31H981.58ZM1351.39 1187.5H1360.52V1205.75H1351.39ZM1355.95 1205.75H1365.08V1210.31H1355.95ZM977.02 1210.31H986.15V1242.24H977.02ZM1346.82 1210.31H1378.78V1219.43H1346.82ZM1342.26 1219.43H1378.78V1223.99H1342.26ZM1342.26 1223.99H1383.35V1228.55H1342.26ZM1346.82 1228.55H1378.78V1242.24H1346.82ZM972.45 1242.24H981.58V1274.16H972.45ZM1355.95 1242.24H1374.22V1246.8H1355.95ZM1365.08 1246.8H1374.22V1255.92H1365.08ZM1369.65 1255.92H1378.78V1269.6H1369.65ZM1369.65 1269.6H1383.35V1274.16H1369.65ZM967.89 1274.16H977.02V1292.41H967.89ZM1365.08 1274.16H1397.04V1283.29H1365.08ZM1360.52 1283.29H1397.04V1287.85H1360.52ZM1360.52 1287.85H1401.61V1292.41H1360.52ZM954.19 1292.41H986.15V1301.53H954.19ZM1365.08 1292.41H1397.04V1306.09H1365.08ZM949.62 1301.53H986.15V1306.09H949.62ZM949.62 1306.09H990.71V1310.65H949.62ZM1374.22 1306.09H1392.48V1310.65H1374.22ZM954.19 1310.65H986.15V1324.34H954.19ZM1383.35 1310.65H1392.48V1315.21H1383.35ZM1387.91 1315.21H1397.04V1328.9H1387.91ZM963.32 1324.34H977.02V1328.9H963.32ZM963.32 1328.9H972.45V1342.58H963.32ZM1392.48 1328.9H1401.61V1333.46H1392.48ZM1392.48 1333.46H1406.17V1338.02H1392.48ZM1387.91 1338.02H1419.87V1347.14H1387.91ZM958.75 1342.58H967.89V1374.51H958.75ZM1383.35 1347.14H1419.87V1351.7H1383.35ZM1383.35 1351.7H1424.44V1356.26H1383.35ZM1387.91 1356.26H1419.87V1369.94H1387.91ZM1397.04 1369.94H1415.31V1374.51H1397.04ZM954.19 1374.51H963.32V1406.43H954.19ZM1406.17 1374.51H1415.31V1383.63H1406.17ZM1410.74 1383.63H1419.87V1392.75H1410.74ZM1410.74 1392.75H1424.44V1397.31H1410.74ZM1406.17 1397.31H1438.13V1406.43H1406.17ZM949.62 1406.43H958.75V1424.68H949.62ZM1401.61 1406.43H1438.13V1410.99H1401.61ZM1401.61 1410.99H1442.7V1415.56H1401.61ZM1406.17 1415.56H1438.13V1429.24H1406.17ZM935.93 1424.68H967.89V1433.8H935.93ZM1415.31 1429.24H1433.57V1433.8H1415.31ZM931.36 1433.8H967.89V1438.36H931.36ZM1424.44 1433.8H1433.57V1438.36H1424.44ZM931.36 1438.36H972.45V1442.92H931.36ZM1429 1438.36H1438.13V1442.92H1429ZM935.93 1442.92H967.89V1456.6H935.93ZM1429 1442.92H1442.7V1447.48H1429ZM1424.44 1447.48H1456.39V1456.6H1424.44ZM945.06 1456.6H958.75V1461.16H945.06ZM1419.87 1456.6H1456.39V1461.16H1419.87ZM945.06 1461.16H954.19V1465.73H945.06ZM1419.87 1461.16H1460.96V1465.73H1419.87ZM940.49 1465.73H949.62V1488.53H940.49ZM1424.44 1465.73H1456.39V1479.41H1424.44ZM1433.57 1479.41H1460.96V1483.97H1433.57ZM1442.7 1483.97H1474.66V1493.09H1442.7ZM935.93 1488.53H945.06V1511.34H935.93ZM1438.13 1493.09H1474.66V1497.65H1438.13ZM1438.13 1497.65H1479.22V1502.21H1438.13ZM1442.7 1502.21H1474.66V1515.9H1442.7ZM931.36 1511.34H940.49V1515.9H931.36ZM917.67 1515.9H949.62V1525.02H917.67ZM1451.83 1515.9H1474.66V1520.46H1451.83ZM1479.22 1515.9H1483.79V1520.46H1479.22ZM1465.53 1520.46H1497.48V1529.58H1465.53ZM913.1 1525.02H949.62V1529.58H913.1ZM913.1 1529.58H954.19V1534.14H913.1ZM1460.96 1529.58H1497.48V1534.14H1460.96ZM917.67 1534.14H949.62V1547.82H917.67ZM1460.96 1534.14H1502.05V1538.7H1460.96ZM1465.53 1538.7H1497.48V1547.82H1465.53ZM922.23 1547.82H940.49V1552.38H922.23ZM1465.53 1547.82H1502.05V1552.38H1465.53ZM922.23 1552.38H931.36V1566.07H922.23ZM1474.66 1552.38H1515.75V1556.95H1474.66ZM1483.79 1556.95H1515.75V1561.51H1483.79ZM1479.22 1561.51H1515.75V1566.07H1479.22ZM917.67 1566.07H926.8V1575.19H917.67ZM1479.22 1566.07H1520.31V1570.63H1479.22ZM1483.79 1570.63H1515.75V1575.19H1483.79ZM913.1 1575.19H926.8V1579.75H913.1ZM1483.79 1575.19H1520.31V1579.75H1483.79ZM899.4 1579.75H931.36V1588.87H899.4ZM1483.79 1579.75H1534.01V1584.31H1483.79ZM1492.92 1584.31H1534.01V1588.87H1492.92ZM894.84 1588.87H931.36V1593.43H894.84ZM1497.48 1588.87H1534.01V1593.43H1497.48ZM894.84 1593.43H935.93V1597.99H894.84ZM1497.48 1593.43H1543.14V1597.99H1497.48ZM899.4 1597.99H931.36V1611.68H899.4ZM1502.05 1597.99H1556.84V1611.68H1502.05ZM903.97 1611.68H922.23V1616.24H903.97ZM1511.18 1611.68H1561.4V1616.24H1511.18ZM899.4 1616.24H908.53V1625.36H899.4ZM1524.88 1616.24H1575.1V1625.36H1524.88ZM890.27 1620.8H894.84V1625.36H890.27ZM876.58 1625.36H908.53V1634.48H876.58ZM1534.01 1625.36H1579.66V1629.92H1534.01ZM1534.01 1629.92H1538.57V1634.48H1534.01ZM1543.14 1629.92H1593.36V1634.48H1543.14ZM872.01 1634.48H908.53V1639.04H872.01ZM1561.4 1634.48H1593.36V1639.04H1561.4ZM1597.92 1634.48H1602.49V1639.04H1597.92ZM872.01 1639.04H913.1V1643.61H872.01ZM1579.66 1639.04H1616.19V1643.61H1579.66ZM876.58 1643.61H908.53V1648.17H876.58ZM1593.36 1643.61H1597.92V1648.17H1593.36ZM1602.49 1643.61H1620.75V1648.17H1602.49ZM872.01 1648.17H908.53V1652.73H872.01ZM1620.75 1648.17H1639.01V1652.73H1620.75ZM858.31 1652.73H908.53V1657.29H858.31ZM1639.01 1652.73H1657.28V1657.29H1639.01ZM858.31 1657.29H899.4V1661.85H858.31ZM1657.28 1657.29H1670.97V1661.85H1657.28ZM853.75 1661.85H890.27V1666.41H853.75ZM840.05 1666.41H894.84V1670.97H840.05ZM830.92 1670.97H835.49V1675.53H830.92ZM840.05 1670.97H890.27V1675.53H840.05ZM812.66 1675.53H876.58V1680.09H812.66ZM1917.51 1675.53H1926.64V1680.09H1917.51ZM794.4 1680.09H853.75V1684.65H794.4ZM858.31 1680.09H872.01V1684.65H858.31ZM1899.25 1680.09H1926.64V1684.65H1899.25ZM716.78 1684.65H721.35V1689.21H716.78ZM735.05 1684.65H739.61V1689.21H735.05ZM780.7 1684.65H830.92V1689.21H780.7ZM835.49 1684.65H840.05V1689.21H835.49ZM1876.42 1684.65H1926.64V1689.21H1876.42ZM712.22 1689.21H716.78V1693.78H712.22ZM721.35 1689.21H735.05V1693.78H721.35ZM798.96 1689.21H812.66V1693.78H798.96ZM1858.16 1689.21H1931.21V1693.78H1858.16ZM1839.9 1693.78H1926.64V1698.34H1839.9ZM1680.1 1698.34H1689.24V1702.9H1680.1ZM1702.93 1698.34H1707.5V1702.9H1702.93ZM1762.28 1698.34H1766.85V1702.9H1762.28ZM1780.55 1698.34H1785.11V1702.9H1780.55ZM1798.81 1698.34H1807.94V1702.9H1798.81ZM1821.63 1698.34H1926.64V1702.9H1821.63ZM1689.24 1702.9H1702.93V1707.46H1689.24ZM1707.5 1702.9H1725.76V1707.46H1707.5ZM1739.46 1702.9H1798.81V1707.46H1739.46ZM1807.94 1702.9H1926.64V1707.46H1807.94ZM1725.76 1707.46H1739.46V1712.02H1725.76ZM1748.59 1707.46H1762.28V1712.02H1748.59ZM1766.85 1707.46H1780.55V1712.02H1766.85ZM1826.2 1707.46H1839.9V1712.02H1826.2ZM1844.46 1707.46H1858.16V1712.02H1844.46ZM1862.72 1707.46H1876.42V1712.02H1862.72ZM1885.55 1707.46H1899.25V1712.02H1885.55ZM1903.81 1707.46H1917.51V1712.02H1903.81ZM579.82 1712.02H584.38V1716.58H579.82ZM684.83 1721.14H689.39V1725.7H684.83ZM762.44 1721.14H771.57V1725.7H762.44ZM584.38 1725.7H593.51V1730.26H584.38ZM607.21 1725.7H611.78V1730.26H607.21ZM671.13 1725.7H684.83V1730.26H671.13ZM689.39 1725.7H703.09V1730.26H689.39ZM748.74 1725.7H762.44V1730.26H748.74ZM593.51 1730.26H607.21V1734.83H593.51Z"/>
<path fill="#ff0000" d="M1314.86 238.82H1337.69V243.38H1314.86ZM1470.09 238.82H1492.92V243.38H1470.09ZM1625.32 238.82H1648.15V243.38H1625.32ZM1305.73 243.38H1346.82V247.94H1305.73ZM1460.96 243.38H1502.05V247.94H1460.96ZM1616.19 243.38H1657.28V247.94H1616.19ZM1301.17 247.94H1351.39V252.5H1301.17ZM1456.39 247.94H1506.62V252.5H1456.39ZM1611.62 247.94H1661.84V252.5H1611.62ZM1296.6 252.5H1351.39V257.06H1296.6ZM1451.83 252.5H1506.62V257.06H1451.83ZM1607.06 252.5H1661.84V257.06H1607.06ZM1296.6 257.06H1355.95V261.62H1296.6ZM1451.83 257.06H1511.18V261.62H1451.83ZM1607.06 257.06H1666.41V261.62H1607.06ZM1296.6 261.62H1666.41V270.74H1296.6ZM1296.6 270.74H1355.95V279.87H1296.6ZM1451.83 270.74H1511.18V279.87H1451.83ZM1607.06 270.74H1666.41V279.87H1607.06ZM1301.17 279.87H1351.39V288.99H1301.17ZM1456.39 279.87H1506.62V288.99H1456.39ZM1611.62 279.87H1661.84V288.99H1611.62ZM1305.73 288.99H1346.82V293.55H1305.73ZM1460.96 288.99H1502.05V293.55H1460.96ZM1616.19 288.99H1657.28V293.55H1616.19ZM1310.3 293.55H1342.26V298.11H1310.3ZM1465.53 293.55H1497.48V298.11H1465.53ZM1620.75 293.55H1652.71V298.11H1620.75ZM1127.68 918.41H1132.24V922.97H1127.68ZM1113.98 922.97H1145.94V932.09H1113.98ZM1109.42 932.09H1145.94V936.65H1109.42ZM1104.85 936.65H1150.51V941.21H1104.85ZM1091.15 941.21H1164.2V950.33H1091.15ZM1086.59 950.33H1164.2V954.89H1086.59ZM1086.59 954.89H1168.77V959.45H1086.59ZM1091.15 959.45H1123.11V973.14H1091.15ZM1132.24 959.45H1164.2V973.14H1132.24ZM1095.72 973.14H1113.98V977.7H1095.72ZM1141.38 973.14H1159.64V977.7H1141.38ZM1086.59 977.7H1100.29V982.26H1086.59ZM1150.51 977.7H1159.64V982.26H1150.51ZM1072.89 982.26H1104.85V991.38H1072.89ZM1155.07 982.26H1164.2V986.82H1155.07ZM1155.07 986.82H1168.77V991.38H1155.07ZM1068.33 991.38H1104.85V995.94H1068.33ZM1150.51 991.38H1182.46V1000.5H1150.51ZM1068.33 995.94H1109.42V1000.5H1068.33ZM1072.89 1000.5H1104.85V1014.19H1072.89ZM1145.94 1000.5H1182.46V1005.06H1145.94ZM1145.94 1005.06H1187.03V1009.63H1145.94ZM1150.51 1009.63H1182.46V1023.31H1150.51ZM1082.02 1014.19H1095.72V1018.75H1082.02ZM1082.02 1018.75H1091.15V1023.31H1082.02ZM1077.46 1023.31H1086.59V1046.11H1077.46ZM1159.64 1023.31H1177.9V1027.87H1159.64ZM1168.77 1027.87H1177.9V1036.99H1168.77ZM1173.33 1036.99H1182.46V1050.67H1173.33ZM1072.89 1046.11H1082.02V1068.92H1072.89ZM1177.9 1050.67H1187.03V1059.8H1177.9ZM1177.9 1059.8H1191.6V1064.36H1177.9ZM1173.33 1064.36H1205.29V1073.48H1173.33ZM1068.33 1068.92H1077.46V1073.48H1068.33ZM1054.63 1073.48H1086.59V1082.6H1054.63ZM1168.77 1073.48H1205.29V1078.04H1168.77ZM1168.77 1078.04H1209.86V1082.6H1168.77ZM1050.07 1082.6H1086.59V1087.16H1050.07ZM1173.33 1082.6H1205.29V1096.28H1173.33ZM1050.07 1087.16H1091.15V1091.72H1050.07ZM1054.63 1091.72H1086.59V1105.41H1054.63ZM1182.46 1096.28H1200.73V1100.85H1182.46ZM1191.6 1100.85H1200.73V1114.53H1191.6ZM1063.76 1105.41H1077.46V1109.97H1063.76ZM1063.76 1109.97H1072.89V1114.53H1063.76ZM1059.2 1114.53H1068.33V1137.33H1059.2ZM1196.16 1114.53H1205.29V1128.21H1196.16ZM1196.16 1128.21H1209.86V1132.77H1196.16ZM1191.6 1132.77H1223.55V1141.89H1191.6ZM1054.63 1137.33H1063.76V1160.14H1054.63ZM1187.03 1141.89H1223.55V1146.46H1187.03ZM1187.03 1146.46H1228.12V1151.02H1187.03ZM1191.6 1151.02H1223.55V1164.7H1191.6ZM1050.07 1160.14H1059.2V1182.94H1050.07ZM1200.73 1164.7H1218.99V1169.26H1200.73ZM1209.86 1169.26H1218.99V1182.94H1209.86ZM1045.5 1182.94H1054.63V1187.5H1045.5ZM1214.42 1182.94H1223.55V1196.63H1214.42ZM1031.8 1187.5H1063.76V1196.63H1031.8ZM1027.24 1196.63H1063.76V1201.19H1027.24ZM1214.42 1196.63H1228.12V1201.19H1214.42ZM1027.24 1201.19H1068.33V1205.75H1027.24ZM1209.86 1201.19H1241.82V1210.31H1209.86ZM1031.8 1205.75H1063.76V1219.43H1031.8ZM1205.29 1210.31H1241.82V1214.87H1205.29ZM1205.29 1214.87H1246.38V1219.43H1205.29ZM1040.93 1219.43H1054.63V1223.99H1040.93ZM1209.86 1219.43H1241.82V1233.12H1209.86ZM1040.93 1223.99H1050.07V1233.12H1040.93ZM1036.37 1233.12H1045.5V1265.04H1036.37ZM1218.99 1233.12H1237.25V1237.68H1218.99ZM1228.12 1237.68H1237.25V1246.8H1228.12ZM1232.68 1246.8H1241.82V1260.48H1232.68ZM1232.68 1260.48H1246.38V1265.04H1232.68ZM1031.8 1265.04H1040.93V1296.97H1031.8ZM1228.12 1265.04H1260.08V1274.16H1228.12ZM1223.55 1274.16H1260.08V1278.72H1223.55ZM1223.55 1278.72H1264.64V1283.29H1223.55ZM1228.12 1283.29H1260.08V1296.97H1228.12ZM1027.24 1296.97H1036.37V1310.65H1027.24ZM1237.25 1296.97H1255.51V1301.53H1237.25ZM1246.38 1301.53H1255.51V1306.09H1246.38ZM1250.95 1306.09H1260.08V1315.21H1250.95ZM1013.54 1310.65H1045.5V1319.77H1013.54ZM1255.51 1315.21H1264.64V1319.77H1255.51ZM1008.98 1319.77H1045.5V1324.34H1008.98ZM1255.51 1319.77H1269.21V1324.34H1255.51ZM1008.98 1324.34H1050.07V1328.9H1008.98ZM1250.95 1324.34H1282.91V1333.46H1250.95ZM1013.54 1328.9H1045.5V1342.58H1013.54ZM1246.38 1333.46H1282.91V1338.02H1246.38ZM1246.38 1338.02H1287.47V1342.58H1246.38ZM1022.67 1342.58H1036.37V1347.14H1022.67ZM1250.95 1342.58H1282.91V1356.26H1250.95ZM1022.67 1347.14H1031.8V1356.26H1022.67ZM1018.11 1356.26H1027.24V1383.63H1018.11ZM1260.08 1356.26H1278.34V1360.82H1260.08ZM1273.77 1360.82H1282.91V1365.38H1273.77ZM1273.77 1365.38H1287.47V1369.94H1273.77ZM1269.21 1369.94H1301.17V1379.07H1269.21ZM1264.64 1379.07H1301.17V1383.63H1264.64ZM1013.54 1383.63H1022.67V1410.99H1013.54ZM1264.64 1383.63H1305.73V1388.19H1264.64ZM1269.21 1388.19H1301.17V1401.87H1269.21ZM1278.34 1401.87H1296.6V1406.43H1278.34ZM1292.04 1406.43H1301.17V1410.99H1292.04ZM1008.98 1410.99H1018.11V1420.12H1008.98ZM1292.04 1410.99H1305.73V1415.56H1292.04ZM1287.47 1415.56H1319.43V1424.68H1287.47ZM995.28 1420.12H1027.24V1429.24H995.28ZM1282.91 1424.68H1319.43V1429.24H1282.91ZM990.71 1429.24H1027.24V1433.8H990.71ZM1282.91 1429.24H1324V1433.8H1282.91ZM990.71 1433.8H1031.8V1438.36H990.71ZM1287.47 1433.8H1319.43V1447.48H1287.47ZM995.28 1438.36H1027.24V1452.04H995.28ZM1296.6 1447.48H1314.86V1452.04H1296.6ZM1004.41 1452.04H1018.11V1456.6H1004.41ZM1310.3 1452.04H1324V1456.6H1310.3ZM999.84 1456.6H1008.98V1479.41H999.84ZM1305.73 1456.6H1337.69V1465.73H1305.73ZM1301.17 1465.73H1337.69V1470.29H1301.17ZM1301.17 1470.29H1342.26V1474.85H1301.17ZM1305.73 1474.85H1337.69V1483.97H1305.73ZM995.28 1479.41H1004.41V1497.65H995.28ZM1342.26 1479.41H1346.82V1483.97H1342.26ZM1305.73 1483.97H1360.52V1488.53H1305.73ZM1314.86 1488.53H1360.52V1493.09H1314.86ZM1324 1493.09H1360.52V1497.65H1324ZM990.71 1497.65H999.84V1502.21H990.71ZM1324 1497.65H1365.08V1502.21H1324ZM977.02 1502.21H1008.98V1511.34H977.02ZM1328.56 1502.21H1360.52V1506.77H1328.56ZM1328.56 1506.77H1365.08V1511.34H1328.56ZM972.45 1511.34H1008.98V1515.9H972.45ZM1328.56 1511.34H1378.78V1515.9H1328.56ZM972.45 1515.9H1013.54V1520.46H972.45ZM1337.69 1515.9H1378.78V1520.46H1337.69ZM977.02 1520.46H1008.98V1534.14H977.02ZM1342.26 1520.46H1378.78V1525.02H1342.26ZM1342.26 1525.02H1383.35V1529.58H1342.26ZM1346.82 1529.58H1397.04V1543.26H1346.82ZM981.58 1534.14H999.84V1538.7H981.58ZM981.58 1538.7H990.71V1543.26H981.58ZM977.02 1543.26H986.15V1556.95H977.02ZM1355.95 1543.26H1401.61V1547.82H1355.95ZM1365.08 1547.82H1397.04V1552.38H1365.08ZM1401.61 1547.82H1406.17V1552.38H1401.61ZM1365.08 1552.38H1419.87V1561.51H1365.08ZM972.45 1556.95H981.58V1561.51H972.45ZM967.89 1561.51H981.58V1566.07H967.89ZM1374.22 1561.51H1419.87V1566.07H1374.22ZM954.19 1566.07H986.15V1575.19H954.19ZM1383.35 1566.07H1424.44V1570.63H1383.35ZM1387.91 1570.63H1438.13V1579.75H1387.91ZM949.62 1575.19H986.15V1579.75H949.62ZM949.62 1579.75H990.71V1584.31H949.62ZM1387.91 1579.75H1442.7V1584.31H1387.91ZM954.19 1584.31H986.15V1597.99H954.19ZM1397.04 1584.31H1456.39V1588.87H1397.04ZM1406.17 1588.87H1460.96V1593.43H1406.17ZM1406.17 1593.43H1474.66V1602.56H1406.17ZM958.75 1597.99H977.02V1602.56H958.75ZM958.75 1602.56H967.89V1607.12H958.75ZM1415.31 1602.56H1474.66V1607.12H1415.31ZM1479.22 1602.56H1483.79V1607.12H1479.22ZM954.19 1607.12H963.32V1611.68H954.19ZM1424.44 1607.12H1497.48V1611.68H1424.44ZM949.62 1611.68H963.32V1616.24H949.62ZM1424.44 1611.68H1502.05V1616.24H1424.44ZM935.93 1616.24H967.89V1625.36H935.93ZM1433.57 1616.24H1515.75V1620.8H1433.57ZM1442.7 1620.8H1520.31V1625.36H1442.7ZM931.36 1625.36H967.89V1629.92H931.36ZM1451.83 1625.36H1534.01V1629.92H1451.83ZM931.36 1629.92H972.45V1634.48H931.36ZM1465.53 1629.92H1534.01V1634.48H1465.53ZM1538.57 1629.92H1543.14V1634.48H1538.57ZM935.93 1634.48H967.89V1639.04H935.93ZM1465.53 1634.48H1561.4V1639.04H1465.53ZM931.36 1639.04H967.89V1643.61H931.36ZM1474.66 1639.04H1579.66V1643.61H1474.66ZM1908.38 1639.04H1912.94V1643.61H1908.38ZM917.67 1643.61H967.89V1648.17H917.67ZM1483.79 1643.61H1593.36V1648.17H1483.79ZM1597.92 1643.61H1602.49V1648.17H1597.92ZM1890.12 1643.61H1926.64V1648.17H1890.12ZM917.67 1648.17H958.75V1652.73H917.67ZM1492.92 1648.17H1620.75V1652.73H1492.92ZM1867.29 1648.17H1871.86V1652.73H1867.29ZM1876.42 1648.17H1926.64V1652.73H1876.42ZM913.1 1652.73H949.62V1657.29H913.1ZM1502.05 1652.73H1639.01V1657.29H1502.05ZM1849.03 1652.73H1926.64V1657.29H1849.03ZM913.1 1657.29H954.19V1661.85H913.1ZM1511.18 1657.29H1657.28V1661.85H1511.18ZM1675.54 1657.29H1680.1V1661.85H1675.54ZM1830.77 1657.29H1931.21V1661.85H1830.77ZM899.4 1661.85H949.62V1670.97H899.4ZM1524.88 1661.85H1698.37V1666.41H1524.88ZM1712.06 1661.85H1716.63V1666.41H1712.06ZM1753.15 1661.85H1757.72V1666.41H1753.15ZM1771.41 1661.85H1775.98V1666.41H1771.41ZM1789.68 1661.85H1794.24V1666.41H1789.68ZM1812.5 1661.85H1926.64V1666.41H1812.5ZM1534.01 1666.41H1734.89V1670.97H1534.01ZM1739.46 1666.41H1926.64V1670.97H1739.46ZM890.27 1670.97H949.62V1675.53H890.27ZM1552.27 1670.97H1926.64V1675.53H1552.27ZM876.58 1675.53H940.49V1680.09H876.58ZM1570.53 1675.53H1917.51V1680.09H1570.53ZM853.75 1680.09H858.31V1684.65H853.75ZM872.01 1680.09H931.36V1684.65H872.01ZM1593.36 1680.09H1899.25V1684.65H1593.36ZM675.69 1684.65H680.26V1689.21H675.69ZM693.96 1684.65H698.52V1689.21H693.96ZM753.31 1684.65H757.87V1689.21H753.31ZM776.13 1684.65H780.7V1689.21H776.13ZM830.92 1684.65H835.49V1689.21H830.92ZM840.05 1684.65H931.36V1689.21H840.05ZM1611.62 1684.65H1876.42V1689.21H1611.62ZM598.08 1689.21H602.65V1693.78H598.08ZM616.34 1689.21H620.91V1693.78H616.34ZM639.17 1689.21H643.74V1693.78H639.17ZM657.43 1689.21H712.22V1693.78H657.43ZM716.78 1689.21H721.35V1693.78H716.78ZM735.05 1689.21H798.96V1693.78H735.05ZM812.66 1689.21H931.36V1693.78H812.66ZM1629.88 1689.21H1858.16V1693.78H1629.88ZM584.38 1693.78H922.23V1698.34H584.38ZM1648.15 1693.78H1661.84V1698.34H1648.15ZM1670.97 1693.78H1839.9V1698.34H1670.97ZM584.38 1698.34H908.53V1702.9H584.38ZM1689.24 1698.34H1702.93V1702.9H1689.24ZM1707.5 1698.34H1762.28V1702.9H1707.5ZM1766.85 1698.34H1780.55V1702.9H1766.85ZM1785.11 1698.34H1798.81V1702.9H1785.11ZM1807.94 1698.34H1821.63V1702.9H1807.94ZM579.82 1702.9H908.53V1707.46H579.82ZM1725.76 1702.9H1739.46V1707.46H1725.76ZM579.82 1707.46H899.4V1712.02H579.82ZM584.38 1712.02H890.27V1716.58H584.38ZM584.38 1716.58H862.88V1721.14H584.38ZM867.45 1716.58H881.14V1721.14H867.45ZM584.38 1721.14H684.83V1725.7H584.38ZM689.39 1721.14H762.44V1725.7H689.39ZM771.57 1721.14H840.05V1725.7H771.57ZM593.51 1725.7H607.21V1730.26H593.51ZM611.78 1725.7H625.47V1730.26H611.78ZM634.6 1725.7H648.3V1730.26H634.6ZM652.87 1725.7H666.56V1730.26H652.87ZM712.22 1725.7H725.91V1730.26H712.22ZM730.48 1725.7H744.18V1730.26H730.48ZM789.83 1725.7H803.53V1730.26H789.83ZM808.09 1725.7H821.79V1730.26H808.09Z"/>
</g>
<g>
<text transform="translate(0,92.86) scale(0.95,1)"><tspan x="130.16">-5</tspan></text>
<text transform="translate(0,421.26) scale(0.95,1)"><tspan x="130.16">-4</tspan></text>
<text transform="translate(0,749.65) scale(0.95,1)"><tspan x="130.16">-3</tspan></text>
<text transform="translate(0,1078.04) scale(0.95,1)"><tspan x="130.16">-2</tspan></text>
<text transform="translate(0,1406.43) scale(0.95,1)"><tspan x="130.16">-</tspan><tspan x="152.96">1</tspan></text>
<text transform="translate(0,1734.83) scale(0.95,1)"><tspan x="150.01">0</tspan></text>
<text transform="translate(0,2063.22) scale(0.95,1)"><tspan x="152.96">1</tspan></text>
<text transform="translate(0,2190.92) scale(0.95,1)"><tspan x="244.52">0.3</tspan></text>
<text transform="translate(0,2190.92) scale(0.95,1)"><tspan x="590.54">0.2</tspan></text>
<text transform="translate(0,2190.92) scale(0.95,1)"><tspan x="936.55">0.</tspan><tspan x="989.20">1</tspan></text>
<text transform="translate(0,2190.92) scale(0.95,1)"><tspan x="1307.42">0</tspan></text>
<text transform="translate(0,2190.92) scale(0.95,1)"><tspan x="1618.66">-0.</tspan><tspan x="1691.16">1</tspan></text>
<text transform="translate(0,2190.92) scale(0.95,1)"><tspan x="1964.68">-0.2</tspan></text>
<text transform="translate(0,2190.92) scale(0.95,1)"><tspan x="2310.70">-0.3</tspan></text>
<text transform="translate(0,2254.78) scale(0.95,1)"><tspan x="1268.95">E/V</tspan></text>
<text transform="translate(91.30,1129.10) rotate(-90) scale(0.982,1)">Ip/µA</text>
<text transform="translate(0,174.96) scale(0.95,1)"><tspan x="1791.79" y="0.00">1</tspan><tspan x="1811.46" y="0.00">·</tspan><tspan x="1829.68" y="0.00">1</tspan><tspan x="1859.88" y="0.00">0</tspan><tspan x="1890.11" y="-13.68" style="font-size:33px">-3 </tspan><tspan x="1937.68" y="0.00">mol</tspan><tspan x="2023.46" y="0.00">·</tspan><tspan x="2040.00" y="0.00">dm</tspan><tspan x="2116.42" y="-13.68" style="font-size:33px">-3 </tspan><tspan x="2162.74" y="0.00">Bi(III)</tspan></text>
<text transform="translate(0,252.50) scale(0.95,1)"><tspan x="1791.79" y="0.00">1</tspan><tspan x="1811.46" y="0.00">·</tspan><tspan x="1829.68" y="0.00">1</tspan><tspan x="1859.88" y="0.00">0</tspan><tspan x="1890.11" y="-13.68" style="font-size:33px">-3 </tspan><tspan x="1937.68" y="0.00">mol</tspan><tspan x="2023.46" y="0.00">·</tspan><tspan x="2040.00" y="0.00">dm</tspan><tspan x="2116.42" y="-13.68" style="font-size:33px">-3 </tspan><tspan x="2162.74" y="0.00">Bi(III)+</tspan></text>
<text transform="translate(0,316.35) scale(0.95,1)"><tspan x="1791.79" y="0.00">1</tspan><tspan x="1811.46" y="0.00">·</tspan><tspan x="1829.68" y="0.00">1</tspan><tspan x="1859.88" y="0.00">0</tspan><tspan x="1890.11" y="-13.68" style="font-size:33px">-4 </tspan><tspan x="1937.68" y="0.00">mol</tspan><tspan x="2023.46" y="0.00">·</tspan><tspan x="2040.00" y="0.00">dm</tspan><tspan x="2116.42" y="-13.68" style="font-size:33px">-3 </tspan><tspan x="2162.74" y="0.00">Mt</tspan></text>
<text transform="translate(0,393.89) scale(0.95,1)"><tspan x="1791.79" y="0.00">1</tspan><tspan x="1811.46" y="0.00">·</tspan><tspan x="1829.68" y="0.00">1</tspan><tspan x="1859.88" y="0.00">0</tspan><tspan x="1890.11" y="-13.68" style="font-size:33px">-3 </tspan><tspan x="1937.68" y="0.00">mol</tspan><tspan x="2023.46" y="0.00">·</tspan><tspan x="2040.00" y="0.00">dm</tspan><tspan x="2116.42" y="-13.68" style="font-size:33px">-3 </tspan><tspan x="2162.74" y="0.00">Bi(III)+</tspan></text>
<text transform="translate(0,457.75) scale(0.95,1)"><tspan x="1787.79" y="0.00">5</tspan><tspan x="1811.46" y="0.00">·</tspan><tspan x="1829.68" y="0.00">1</tspan><tspan x="1859.88" y="0.00">0</tspan><tspan x="1890.11" y="-13.68" style="font-size:33px">-4 </tspan><tspan x="1937.68" y="0.00">mol</tspan><tspan x="2023.46" y="0.00">·</tspan><tspan x="2040.00" y="0.00">dm</tspan><tspan x="2116.42" y="-13.68" style="font-size:33px">-3 </tspan><tspan x="2162.74" y="0.00">Mt</tspan></text>
<text transform="translate(0,535.28) scale(0.95,1)"><tspan x="1791.79" y="0.00">1</tspan><tspan x="1811.46" y="0.00">·</tspan><tspan x="1829.68" y="0.00">1</tspan><tspan x="1859.88" y="0.00">0</tspan><tspan x="1890.11" y="-13.68" style="font-size:33px">-3 </tspan><tspan x="1937.68" y="0.00">mol</tspan><tspan x="2023.46" y="0.00">·</tspan><tspan x="2040.00" y="0.00">dm</tspan><tspan x="2116.42" y="-13.68" style="font-size:33px">-3 </tspan><tspan x="2162.74" y="0.00">Bi(III)+</tspan></text>
<text transform="translate(0,599.14) scale(0.95,1)"><tspan x="1791.79" y="0.00">1</tspan><tspan x="1811.46" y="0.00">·</tspan><tspan x="1829.68" y="0.00">1</tspan><tspan x="1859.88" y="0.00">0</tspan><tspan x="1890.11" y="-13.68" style="font-size:33px">-3 </tspan><tspan x="1937.68" y="0.00">mol</tspan><tspan x="2023.46" y="0.00">·</tspan><tspan x="2040.00" y="0.00">dm</tspan><tspan x="2116.42" y="-13.68" style="font-size:33px">-3 </tspan><tspan x="2162.74" y="0.00">Mt</tspan></text>
</g>
<g fill="#ffffff">
<rect x="148.35" y="1400.18" width="11.20" height="7.46"/>
<rect x="164.55" y="1400.18" width="10.89" height="7.46"/>
<rect x="148.35" y="2056.96" width="11.20" height="7.46"/>
<rect x="164.55" y="2056.96" width="10.89" height="7.46"/>
<rect x="942.79" y="2184.67" width="11.20" height="7.46"/>
<rect x="958.99" y="2184.67" width="10.89" height="7.46"/>
<rect x="1609.65" y="2184.67" width="11.20" height="7.46"/>
<rect x="1625.85" y="2184.67" width="10.89" height="7.46"/>
<rect x="1705.24" y="168.71" width="11.20" height="7.46"/>
<rect x="1721.44" y="168.71" width="10.89" height="7.46"/>
<rect x="1741.24" y="168.71" width="11.20" height="7.46"/>
<rect x="1757.44" y="168.71" width="10.89" height="7.46"/>
<rect x="1705.24" y="246.24" width="11.20" height="7.46"/>
<rect x="1721.44" y="246.24" width="10.89" height="7.46"/>
<rect x="1741.24" y="246.24" width="11.20" height="7.46"/>
<rect x="1757.44" y="246.24" width="10.89" height="7.46"/>
<rect x="1705.24" y="310.10" width="11.20" height="7.46"/>
<rect x="1721.44" y="310.10" width="10.89" height="7.46"/>
<rect x="1741.24" y="310.10" width="11.20" height="7.46"/>
<rect x="1757.44" y="310.10" width="10.89" height="7.46"/>
<rect x="1705.24" y="387.63" width="11.20" height="7.46"/>
<rect x="1721.44" y="387.63" width="10.89" height="7.46"/>
<rect x="1741.24" y="387.63" width="11.20" height="7.46"/>
<rect x="1757.44" y="387.63" width="10.89" height="7.46"/>
<rect x="1741.24" y="451.49" width="11.20" height="7.46"/>
<rect x="1757.44" y="451.49" width="10.89" height="7.46"/>
<rect x="1705.24" y="529.03" width="11.20" height="7.46"/>
<rect x="1721.44" y="529.03" width="10.89" height="7.46"/>
<rect x="1741.24" y="529.03" width="11.20" height="7.46"/>
<rect x="1757.44" y="529.03" width="10.89" height="7.46"/>
<rect x="1705.24" y="592.88" width="11.20" height="7.46"/>
<rect x="1721.44" y="592.88" width="10.89" height="7.46"/>
<rect x="1741.24" y="592.88" width="11.20" height="7.46"/>
<rect x="1757.44" y="592.88" width="10.89" height="7.46"/>
</g>
</svg>
</body></html>
